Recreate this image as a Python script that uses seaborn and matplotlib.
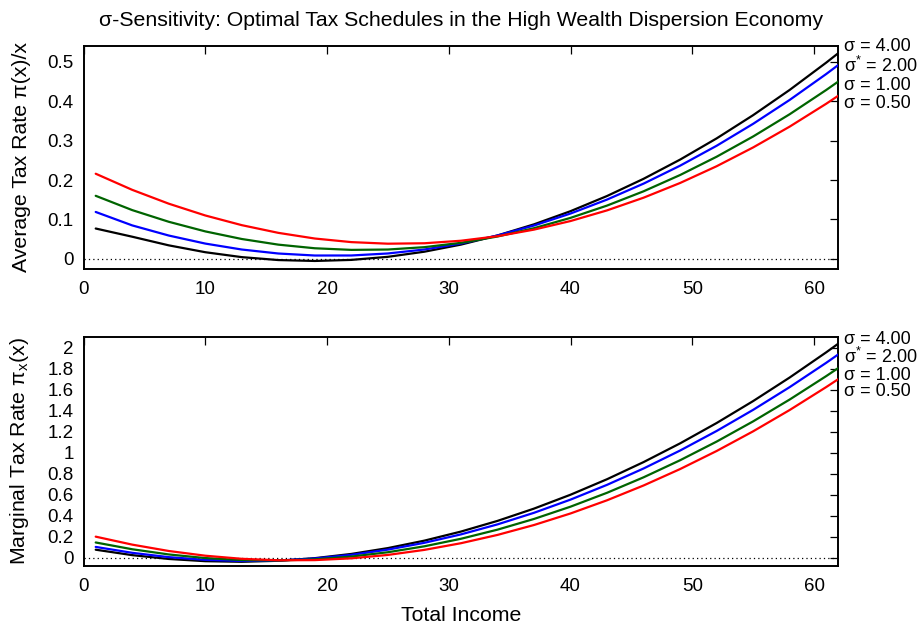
import matplotlib
matplotlib.use("Agg")
import matplotlib.pyplot as plt
import numpy as np
import pandas as pd
import seaborn as sns
from matplotlib.ticker import FuncFormatter, MultipleLocator

# Total income grid
income = [1, 4, 7, 10, 13, 16, 19, 22, 25, 28, 31, 34, 37, 40, 43, 46, 49, 52,
          55, 58, 61, 62]

sigma_labels = ["σ = 4.00", "σ$^{*}$ = 2.00", "σ = 1.00", "σ = 0.50"]
sigma_colors = ["#000000", "#0000ff", "#006400", "#ff0000"]

# Average tax rate pi(x)/x
avg_s400 = [0.0770, 0.0562, 0.0343, 0.0169, 0.0044, -0.0030, -0.0053, -0.0026,
            0.0052, 0.0182, 0.0362, 0.0594, 0.0876, 0.1210, 0.1595, 0.2031,
            0.2518, 0.3056, 0.3646, 0.4286, 0.4978, 0.5220]
avg_s200 = [0.1190, 0.0849, 0.0592, 0.0388, 0.0237, 0.0136, 0.0085, 0.0086,
            0.0137, 0.0238, 0.0390, 0.0593, 0.0846, 0.1150, 0.1504, 0.1909,
            0.2364, 0.2869, 0.3426, 0.4032, 0.4689, 0.4920]
avg_s100 = [0.1600, 0.1237, 0.0941, 0.0697, 0.0504, 0.0361, 0.0269, 0.0228,
            0.0237, 0.0297, 0.0407, 0.0567, 0.0778, 0.1040, 0.1352, 0.1714,
            0.2127, 0.2591, 0.3105, 0.3669, 0.4284, 0.4500]
avg_s050 = [0.2160, 0.1751, 0.1400, 0.1101, 0.0855, 0.0660, 0.0516, 0.0425,
            0.0385, 0.0396, 0.0460, 0.0575, 0.0742, 0.0960, 0.1230, 0.1552,
            0.1925, 0.2350, 0.2827, 0.3355, 0.3935, 0.4140]

# Marginal tax rate pi_x(x)
marg_s400 = [0.0764, 0.0246, -0.0118, -0.0329, -0.0387, -0.0291, -0.0041,
             0.0361, 0.0918, 0.1628, 0.2491, 0.3507, 0.4678, 0.6001, 0.7478,
             0.9109, 1.0893, 1.2830, 1.4921, 1.7165, 1.9563, 2.0396]
marg_s200 = [0.1029, 0.0467, 0.0056, -0.0203, -0.0311, -0.0267, -0.0072,
             0.0274, 0.0772, 0.1422, 0.2223, 0.3175, 0.4279, 0.5535, 0.6942,
             0.8500, 1.0210, 1.2072, 1.4085, 1.6249, 1.8565, 1.9371]
marg_s100 = [0.1452, 0.0806, 0.0312, -0.0032, -0.0223, -0.0264, -0.0153,
             0.0110, 0.0523, 0.1089, 0.1805, 0.2673, 0.3693, 0.4863, 0.6186,
             0.7659, 0.9284, 1.1061, 1.2988, 1.5067, 1.7298, 1.8075]
marg_s050 = [0.2007, 0.1247, 0.0642, 0.0192, -0.0103, -0.0243, -0.0228,
             -0.0058, 0.0267, 0.0747, 0.1382, 0.2172, 0.3116, 0.4216, 0.5471,
             0.6881, 0.8445, 1.0165, 1.2040, 1.4069, 1.6254, 1.7016]

x_ticks = [0, 10, 20, 30, 40, 50, 60]

sns.set_theme(style="white")
plt.rcParams["font.family"] = ["Liberation Sans", "DejaVu Sans"]
plt.rcParams["mathtext.fontset"] = "custom"
plt.rcParams["mathtext.rm"] = "Liberation Sans"
plt.rcParams["mathtext.it"] = "Liberation Sans:italic"
plt.rcParams["axes.unicode_minus"] = False
for key in ("text.color", "axes.labelcolor", "xtick.color", "ytick.color",
            "axes.edgecolor"):
    plt.rcParams[key] = "black"


def long_frame(series):
    rows = []
    for lab, vals in zip(sigma_labels, series):
        for xv, yv in zip(income, vals):
            rows.append({"income": xv, "rate": yv, "sigma": lab})
    return pd.DataFrame(rows)


df_avg = long_frame([avg_s400, avg_s200, avg_s100, avg_s050])
df_marg = long_frame([marg_s400, marg_s200, marg_s100, marg_s050])
palette = dict(zip(sigma_labels, sigma_colors))

FS_TICK = 13.5
FS_KEY = 13
FS_LABEL = 15.3

fig = plt.figure(figsize=(9.23, 6.32), dpi=100)
ax1 = fig.add_axes([0.0905, 0.5748, 0.8178, 0.3524])
ax2 = fig.add_axes([0.0905, 0.1049, 0.8178, 0.3623])

for ax, df in ((ax1, df_avg), (ax2, df_marg)):
    ax.axhline(0, color="black", lw=0.9, ls=(0, (1, 2.5)), zorder=1)
    sns.lineplot(data=df, x="income", y="rate", hue="sigma",
                 hue_order=sigma_labels, palette=palette, ax=ax,
                 legend=False, linewidth=1.6, estimator=None, sort=False,
                 zorder=3)
    ax.set_xlim(0, 62)
    ax.set_xticks(x_ticks)
    ax.tick_params(direction="in", length=5.5, width=0.9, top=True,
                   right=True, labelsize=FS_TICK, color="black",
                   labelcolor="black")
    ax.tick_params(axis="y", pad=7)
    ax.tick_params(axis="x", pad=9)
    ax.yaxis.set_major_formatter(FuncFormatter(lambda v, p: "%g" % round(v, 6)))
    for s in ax.spines.values():
        s.set_linewidth(1.4)
        s.set_color("black")
        s.set_visible(True)
    ax.set_xlabel("")
    ax.set_facecolor("white")

ax1.set_ylim(-0.025, 0.54)
ax1.yaxis.set_major_locator(MultipleLocator(0.1))
ax2.set_ylim(-0.076, 2.105)
ax2.yaxis.set_major_locator(MultipleLocator(0.2))

ax1.set_ylabel("Average Tax Rate π(x)/x", fontsize=FS_LABEL)
ax2.set_ylabel("Marginal Tax Rate π$_{\\mathrm{x}}$(x)", fontsize=FS_LABEL)
ax1.yaxis.set_label_coords(-0.07, 0.5)
ax2.yaxis.set_label_coords(-0.07, 0.5)
ax2.set_xlabel("Total Income", fontsize=FS_LABEL)
ax2.xaxis.set_label_coords(0.5, -0.178)

# stacked curve labels at the right edge of each panel
key_text = "\n".join(sigma_labels)
ax1.text(1.0075, 0.7203, key_text, transform=ax1.transAxes, ha="left",
         va="baseline", fontsize=FS_KEY, linespacing=1.085)
ax2.text(1.0075, 0.7410, key_text, transform=ax2.transAxes, ha="left",
         va="baseline", fontsize=FS_KEY, linespacing=0.96)

fig.text(0.4995, 1 - 20 / 632,
         "σ-Sensitivity: Optimal Tax Schedules in the High Wealth Dispersion Economy",
         ha="center", va="center", fontsize=FS_LABEL)

fig.savefig("out.png", dpi=100, facecolor="white")
